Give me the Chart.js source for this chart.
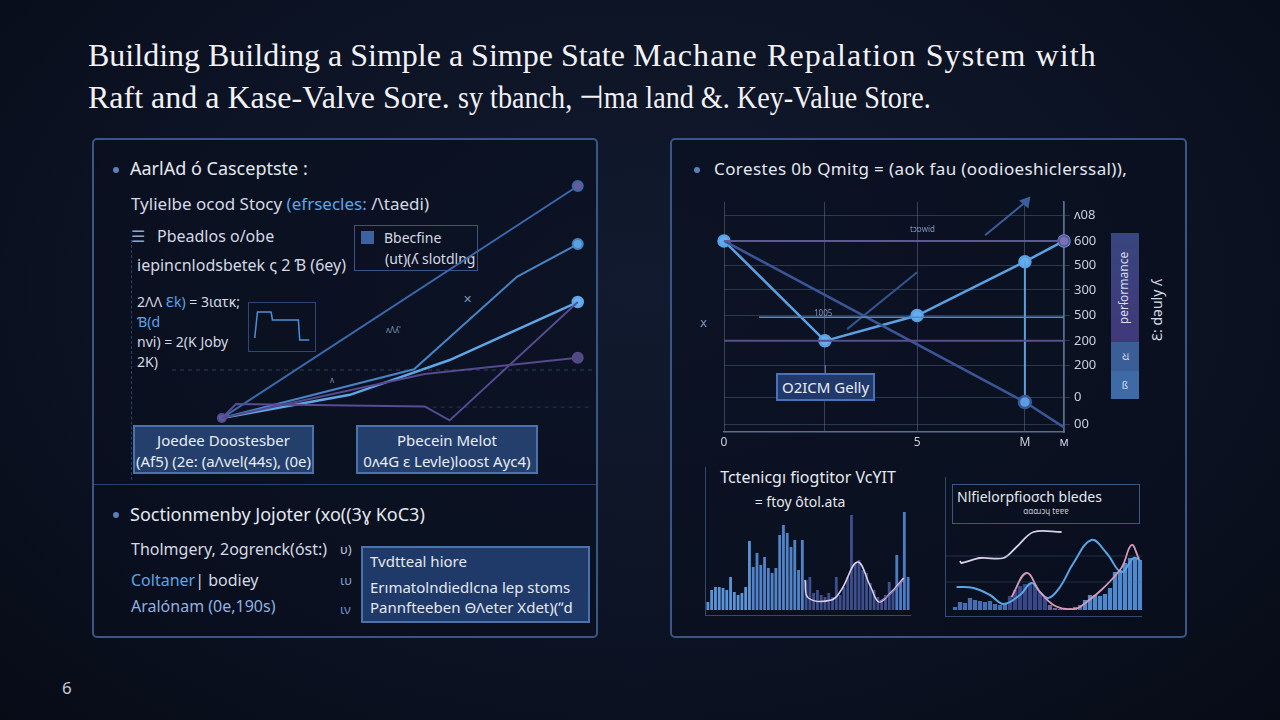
<!DOCTYPE html>
<html lang="en">
<head>
<meta charset="UTF-8">
<title>Raft state machine replication</title>
<script src="https://cdn.jsdelivr.net/npm/chart.js"></script>
<style>
    html, body {
        margin: 0;
        padding: 0;
    }

    body {
        width: 1280px;
        height: 720px;
        overflow: hidden;
        position: relative;
        background: radial-gradient(ellipse at 50% 40%, #111a2e 0%, #0c1324 55%, #070b16 100%);
        font-family: 'Noto Sans', sans-serif;
        color: #e4e8f0;
    }

    .t {
        position: absolute;
        white-space: nowrap;
        transform: translateY(-50%);
        line-height: 1.2;
    }

    .title {
        position: absolute;
        left: 88px;
        top: 34px;
        font-family: 'Liberation Serif', serif;
        font-size: 32px;
        line-height: 42px;
        color: #f2f2f6;
        white-space: nowrap;
    }

    .panel {
        position: absolute;
        box-sizing: border-box;
        border: 2px solid #3b5586;
        border-radius: 5px;
        background: rgba(9, 14, 30, 0.55);
    }

    .dot {
        position: absolute;
        width: 6px;
        height: 6px;
        border-radius: 50%;
        background: #5d7fb8;
    }

    .box {
        position: absolute;
        box-sizing: border-box;
        background: #243f6c;
        border: 2px solid #4a72ad;
        color: #e8ecf4;
        font-size: 15px;
        text-align: center;
        line-height: 21px;
    }

    .blue {
        color: #5aa6e8;
    }

    .dim {
        color: #7f95bd;
    }

    canvas {
        position: absolute;
    }
</style>
</head>
<body>

<div class="title">Building Building a Simple a Simpe State <span style="letter-spacing:1.1px">Machane Repalation System with</span><br>Raft and a Kase-Valve Sore. <span style="display:inline-block;transform:scaleX(0.88);transform-origin:0 50%;">sy tbanch, ⊣ma land &amp;. Key-Value Store.</span></div>

<!-- left panel -->
<div class="panel" style="left:92px;top:138px;width:506px;height:500px;"></div>
<div style="position:absolute;left:94px;top:484px;width:502px;height:1px;background:#2c4170;"></div>
<div style="position:absolute;left:131px;top:240px;height:240px;border-left:1px dashed #2e4066;"></div>

<div class="dot" style="left:113px;top:167px;"></div>
<div class="t" style="left:130px;top:169px;font-size:18px;">AarlAd ó Casceptste :</div>
<div class="t" style="left:131px;top:204px;font-size:17px;color:#d4d9e4;">Tylielbe ocod Stocy <span class="blue">(efrsecles:</span> /\taedi)</div>
<div class="t" style="left:131px;top:237px;font-size:16px;color:#8ea4cc;">☰</div>
<div class="t" style="left:157px;top:237px;font-size:16px;color:#d4d9e4;">Pbeadlos o/obe</div>
<div class="t" style="left:137px;top:266px;font-size:16px;color:#d4d9e4;">iepincnlodsbetek ς 2 Ɓ (6ey)</div>
<div class="t" style="left:137px;top:302px;font-size:14px;color:#d4d9e4;">2ΛΛ <span class="blue">Ɛk)</span> = 3ιατκ;</div>
<div class="t" style="left:137px;top:322px;font-size:14px;" ><span class="blue">Ɓ(d</span></div>
<div class="t" style="left:137px;top:342px;font-size:14px;color:#d4d9e4;">nvi) = 2(K Joby</div>
<div class="t" style="left:137px;top:362px;font-size:14px;color:#d4d9e4;">2K)</div>

<div style="position:absolute;left:248px;top:302px;width:68px;height:50px;box-sizing:border-box;border:1px solid #2f4778;"></div>
<canvas id="stepChart" width="60" height="42" style="left:252px;top:306px;"></canvas>

<div style="position:absolute;left:354px;top:225px;width:124px;height:46px;box-sizing:border-box;border:1px solid #3a5585;"></div>
<div style="position:absolute;left:361px;top:231px;width:13px;height:13px;background:#3d62a0;"></div>
<div class="t" style="left:384px;top:238px;font-size:14px;color:#d4d9e4;">Bbecfine</div>
<div class="t" style="left:385px;top:259px;font-size:14px;color:#d4d9e4;">(ut)(ʎ slotdlng</div>

<div class="t dim" style="left:463px;top:299px;font-size:11px;">✕</div>
<div class="t dim" style="left:386px;top:330px;font-size:8px;">ʌΛʎ'</div>
<div class="t dim" style="left:330px;top:380px;font-size:8px;">ʌ</div>

<canvas id="leftChart" width="420" height="245" style="left:172px;top:180px;"></canvas>

<div class="box" style="left:133px;top:425px;width:181px;height:49px;padding-top:3px;">Joedee Doostesber<br>(Af5) (2e: (aΛvel(44s), (0e)</div>
<div class="box" style="left:356px;top:425px;width:182px;height:49px;padding-top:3px;">Pbecein Melot<br>0ʌ4G ɛ Levle)loost Ayc4)</div>

<div class="dot" style="left:113px;top:512px;"></div>
<div class="t" style="left:130px;top:515px;font-size:18px;">Soctionmenby Jojoter (xo((3ɣ KoC3)</div>
<div class="t" style="left:131px;top:550px;font-size:16px;color:#d4d9e4;">Tholmgery, 2ogrenck(óst:)</div>
<div class="t" style="left:131px;top:581px;font-size:16px;color:#d4d9e4;"><span class="blue">Coltaner</span>| bodiey</div>
<div class="t" style="left:131px;top:607px;font-size:16px;color:#8fb2e0;">Aralónam (0e,190s)</div>
<div class="t" style="left:340px;top:550px;font-size:13px;color:#b8c4dc;">υ)</div>
<div class="t" style="left:340px;top:581px;font-size:13px;color:#7f9ed0;">ιυ</div>
<div class="t" style="left:340px;top:610px;font-size:13px;color:#6f8ec8;">ιν</div>

<div class="box" style="left:361px;top:546px;width:229px;height:77px;background:#1f3a68;text-align:left;"></div>
<div class="t" style="left:370px;top:561px;font-size:15px;">Tvdtteal hiore</div>
<div class="t" style="left:370px;top:587px;font-size:15px;">Erımatolndiedlcna lep stoms</div>
<div class="t" style="left:370px;top:607px;font-size:15px;">Pannfteeben ΘΛeter Xdet)(ʼʼd</div>

<!-- right panel -->
<div class="panel" style="left:670px;top:138px;width:517px;height:500px;"></div>
<div class="dot" style="left:694px;top:167px;"></div>
<div class="t" style="left:714px;top:169px;font-size:17px;letter-spacing:0.4px;">Corestes 0b Qmitg = (aok fau (oodioeshiclerssal)),</div>

<canvas id="rightChart" width="405" height="260" style="left:700px;top:190px;"></canvas>
<div class="t dim" style="left:700px;top:323px;font-size:12px;">ⅹ</div>
<div class="t dim" style="left:910px;top:229px;font-size:8px;">tɔɒwid</div>
<div class="t dim" style="left:814px;top:313px;font-size:8px;">1005</div>
<div style="position:absolute;left:825px;top:365px;width:1px;height:8px;background:#4a72b8;"></div>
<div class="box" style="left:776px;top:373px;width:99px;height:28px;background:#20386a;border-color:#4a72b8;line-height:24px;">O2ICM Gelly</div>

<div style="position:absolute;left:1111px;top:233px;width:28px;height:109px;background:linear-gradient(#38467f,#40387a);"></div>
<div style="position:absolute;left:1111px;top:342px;width:28px;height:29px;background:#3c5e96;"></div>
<div style="position:absolute;left:1111px;top:371px;width:28px;height:28px;background:#3e6ba8;"></div>
<div class="t" style="left:1125px;top:288px;font-size:12px;color:#d8dcf0;transform:translate(-50%,-50%) rotate(90deg);">ǝɔuɐɯɹoɟɹǝd</div>
<div class="t" style="left:1125px;top:356px;font-size:11px;color:#d8dcf0;transform:translate(-50%,-50%);">ଧ</div>
<div class="t" style="left:1125px;top:385px;font-size:10px;color:#d8dcf0;transform:translate(-50%,-50%);">ß</div>
<div class="t" style="left:1157px;top:310px;font-size:14px;color:#d4d9e4;transform:translate(-50%,-50%) rotate(-90deg);">Ɛ: dəuly ʎ</div>

<!-- bottom right charts -->
<div class="t" style="left:808px;top:478px;font-size:16px;color:#e4e8f0;transform:translate(-50%,-50%);">Tctenicgı fiogtitor VcYIT</div>
<div class="t" style="left:800px;top:502px;font-size:14px;color:#e4e8f0;transform:translate(-50%,-50%);">= ftoy ôtol.ata</div>
<div style="position:absolute;left:705px;top:467px;width:1px;height:149px;background:#34496f;"></div>
<div style="position:absolute;left:705px;top:615px;width:206px;height:1px;background:#34496f;"></div>
<canvas id="spikeChart" width="204" height="110" style="left:706px;top:500px;"></canvas>

<div style="position:absolute;left:952px;top:484px;width:188px;height:40px;box-sizing:border-box;border:1.5px solid #3a5586;"></div>
<div class="t" style="left:957px;top:497px;font-size:14px;color:#e4e8f0;">Nlfielorpfioσch bledes</div>
<div class="t" style="left:1046px;top:511px;font-size:8px;color:#c4cad8;transform:translate(-50%,-50%);">ɑɑɑɹɔɥ tɐɐɐ</div>
<div style="position:absolute;left:945px;top:477px;width:1px;height:140px;background:#34496f;"></div>
<div style="position:absolute;left:945px;top:616px;width:197px;height:1px;background:#34496f;"></div>
<canvas id="waveChart" width="196" height="85" style="left:946px;top:525px;"></canvas>

<div class="t" style="left:62px;top:688px;font-size:17px;color:#c4cad6;">6</div>

<script>
    // ---- left panel: converging lines ----
    const aX = [0, 100];
    const aY = [0, 100];
    const bX = [0, 54, 83, 100];
    const bY = [0, 21, 61, 75];
    const cX = [0, 36, 64, 100];
    const cY = [0, 10, 25, 50];
    const dX = [0, 4, 57, 64, 100];
    const dY = [0, 6, 5, -1, 50];
    const eX = [0, 36, 57, 100];
    const eY = [0, 12, 19, 26];
    const guideX = [-14, 104];
    const guideY = [20.7, 20.7];
    const guide2X = [57, 104];
    const guide2Y = [4.7, 4.7];

    // small step sketch inside the formula box
    const stepX = [0, 1, 6, 6.5, 16, 16.5, 20];
    const stepY = [10, 36, 36, 28, 28, 8, 8];

    // ---- right panel: main line chart ----
    const rYTicks = [94, 83, 72.3, 61.7, 50.6, 39.6, 28.9, 14.9, 3.4];
    const rYLabels = ['ʌ08', '600', '500', '300', '500', '200', '200', '0', '00'];
    const rXTicks = [0, 29.7, 56.8, 88.5, 100];
    const rXLabels = ['0', '', '5', 'M', 'м'];
    const mainX = [0, 29.7, 56.8, 88.5, 100];
    const mainY = [83, 39.6, 50.6, 74, 83];
    const diagX = [0, 88.5, 100];
    const diagY = [83, 13, 2];
    const topLevelY = 83;
    const midLevelY = 39.6;
    const blueLevelX = [10.3, 100];
    const blueLevelY = [49.8, 49.8];
    const dropX = [88.5, 88.5];
    const dropY = [74, 14.9];
    const arrow1X = [36.2, 56.8];
    const arrow1Y = [44.7, 69.4];
    const arrow2X = [76.8, 88.8];
    const arrow2Y = [85.5, 100];

    // ---- bottom right: spiky bars ----
    const spikeBars = [8, 20, 23, 23, 22, 20, 33, 18, 15, 17, 23, 69, 43, 57, 45, 53, 42, 37, 42, 75,
        85, 77, 63, 70, 40, 70, 30, 33, 17, 20, 15, 13, 17, 13, 33, 15, 23, 33, 95, 47,
        50, 40, 37, 27, 20, 13, 10, 15, 28, 20, 55, 27, 98, 33];
    const spikeLineX = [25.7, 26.6, 32.7, 35.3, 39.6, 43.1, 45.3, 48.3, 51.8];
    const spikeLineY = [30, 12, 10, 20, 48, 23, 8, 17, 32];
    const spikeLine2X = [45.3, 48.3, 51.8];
    const spikeLine2Y = [8, 16, 30];

    // ---- bottom right: wave chart ----
    const waveBars = [3, 8, 7, 12, 10, 9, 8, 9, 6, 5, 7, 14, 20, 24, 26, 27, 25, 18, 12, 5,
        2, 1, 1, 2, 3, 5, 10, 15, 15, 14, 16, 22, 38, 40, 47, 52, 52, 50];
    const whiteX = [1, 1.3, 5, 9.7, 12.3, 15.7, 21.3];
    const whiteY = [49, 47, 52, 52, 63, 78, 78];
    const blueX = [0.3, 3.7, 7, 9.7, 13, 15.3, 17, 18.7, 21, 23.7, 27.3, 30.3, 33.3, 35.7, 37];
    const blueY = [23, 22, 15, 6, 15, 27, 18, 12, 23, 47, 70, 57, 38, 52, 50];
    const pinkX = [11.3, 14.3, 17, 19.7, 22.3, 25, 33, 35.3, 36.8];
    const pinkY = [13, 37, 18, 5, 1, 3, 40, 65, 51];
    const waveGridY = [28, 54];

    Chart.defaults.font.family = "'Noto Sans', sans-serif";
    Chart.defaults.animation = false;
    Chart.defaults.responsive = false;
    Chart.defaults.layout.autoPadding = false;
    Chart.defaults.plugins.legend.display = false;
    Chart.defaults.plugins.tooltip.enabled = false;

    const pts = (xs, ys) => xs.map((x, i) => ({ x: x, y: ys[i] }));
    const flat = (x0, x1, y) => [{ x: x0, y: y }, { x: x1, y: y }];
    const endDot = (n, r) => Array.from({ length: n }, (_, i) => i === n - 1 ? r : 0);

    function line(data, color, width, extra) {
        return Object.assign({
            type: 'line',
            data: data,
            borderColor: color,
            backgroundColor: color,
            borderWidth: width,
            pointRadius: 0,
            fill: false,
            clip: false
        }, extra || {});
    }

    const hidden = (min, max) => ({
        type: 'linear',
        display: false,
        offset: false,
        grace: 0,
        bounds: 'data',
        min: min,
        max: max,
        grid: { offset: false }
    });

    new Chart(document.getElementById('leftChart'), {
        type: 'line',
        data: {
            datasets: [
                line(pts(guideX, guideY), 'rgba(80,100,140,0.55)', 1, { borderDash: [4, 4] }),
                line(pts(guide2X, guide2Y), 'rgba(80,100,140,0.45)', 1, { borderDash: [4, 4] }),
                line(pts(eX, eY), '#544a8c', 2, { pointRadius: endDot(eX.length, 5), pointBackgroundColor: '#4f4a82' }),
                line(pts(dX, dY), '#574c94', 2, { pointRadius: [4, 0, 0, 0, 0], pointBackgroundColor: '#5c5aa0' }),
                line(pts(aX, aY), '#3a68ab', 2, { pointRadius: endDot(aX.length, 5), pointBackgroundColor: '#665c96' }),
                line(pts(bX, bY), '#4684c6', 2, { pointRadius: endDot(bX.length, 5), pointBackgroundColor: '#5aa2e2' }),
                line(pts(cX, cY), '#5ea6e6', 2.5, { pointRadius: endDot(cX.length, 5), pointBackgroundColor: '#68b0f0' })
            ]
        },
        options: {
            layout: { padding: 0 },
            scales: { x: hidden(-14, 104), y: hidden(-3, 102.6) }
        }
    });

    new Chart(document.getElementById('stepChart'), {
        type: 'line',
        data: {
            datasets: [
                line(pts(stepX, stepY), '#4f8fd6', 1.5)
            ]
        },
        options: {
            scales: { x: hidden(-1, 21), y: hidden(0, 42) }
        }
    });

    new Chart(document.getElementById('rightChart'), {
        type: 'line',
        data: {
            datasets: [
                line(flat(0, 100, midLevelY), '#5a4e8e', 2),
                line(pts(blueLevelX, blueLevelY), '#4d8ccc', 1.5),
                line(flat(0, 100, topLevelY), '#5d5898', 2, { pointRadius: [0, 5], pointBackgroundColor: '#7a72b8' }),
                line(pts(arrow1X, arrow1Y), '#34548f', 2),
                line(pts(arrow2X, arrow2Y), '#3c5e9c', 2, { pointRadius: [0, 5], pointStyle: 'triangle', rotation: 40, pointBackgroundColor: '#3c5e9c' }),
                line(pts(diagX, diagY), '#3a5698', 2.5, { pointRadius: [0, 6, 0], pointBackgroundColor: '#5a9ee0' }),
                line(pts(dropX, dropY), '#5aa0e0', 2),
                line(pts(mainX, mainY), '#5ca2e2', 2.5, { pointRadius: 5.5, pointBackgroundColor: '#64aef0' })
            ]
        },
        options: {
            layout: { padding: { left: 24, top: 7, right: 0, bottom: 0 } },
            scales: {
                x: {
                    type: 'linear',
                    min: 0,
                    max: 100,
                    afterBuildTicks: axis => { axis.ticks = rXTicks.map(v => ({ value: v })); },
                    afterFit: axis => { axis.height = 18; },
                    grid: { color: 'rgba(105,125,165,0.45)', drawTicks: false },
                    border: { color: '#5a6c90', width: 1.5 },
                    ticks: { color: '#c8cedc', font: { size: 12 }, padding: 3, maxRotation: 0, callback: (v, i) => rXLabels[i] }
                },
                y: {
                    type: 'linear',
                    position: 'right',
                    min: 0,
                    max: 100,
                    afterBuildTicks: axis => { axis.ticks = rYTicks.map(v => ({ value: v })); },
                    afterFit: axis => { axis.width = 41; },
                    grid: { color: 'rgba(105,125,165,0.35)', tickLength: 6 },
                    border: { color: '#5a6c90', width: 1.5 },
                    ticks: { color: '#c8cedc', font: { size: 13 }, padding: 4, callback: (v, i) => rYLabels[i] }
                }
            }
        }
    });

    const spikeColor = ctx => {
        const i = ctx.dataIndex;
        if (i < 12) return '#5b94d8';
        if (i < 26) return '#5283c6';
        if (i < 50) return '#3e4f8e';
        return '#4d7cc4';
    };

    new Chart(document.getElementById('spikeChart'), {
        type: 'bar',
        data: {
            datasets: [
                line(pts(spikeLine2X, spikeLine2Y), '#8a74b4', 1.5, { tension: 0.4 }),
                line(pts(spikeLineX, spikeLineY), '#dcd2ec', 1.5, { tension: 0.4 }),
                {
                    type: 'bar',
                    data: spikeBars.map((v, i) => ({ x: i, y: v })),
                    backgroundColor: spikeColor,
                    barPercentage: 0.75,
                    categoryPercentage: 1
                }
            ]
        },
        options: {
            scales: { x: hidden(-0.5, spikeBars.length - 0.5), y: hidden(0, 110) }
        }
    });

    const waveColor = ctx => {
        const i = ctx.dataIndex;
        if (i < 11) return '#4a6cb0';
        if (i < 19) return '#3a4786';
        if (i < 26) return '#6a6a98';
        return '#4f88cc';
    };

    new Chart(document.getElementById('waveChart'), {
        type: 'bar',
        data: {
            datasets: [
                line(flat(-1.8, 37.4, waveGridY[0]), 'rgba(90,110,150,0.35)', 1),
                line(flat(-1.8, 37.4, waveGridY[1]), 'rgba(90,110,150,0.35)', 1),
                line(pts(whiteX, whiteY), '#d6d0ea', 1.8, { tension: 0.35 }),
                line(pts(pinkX, pinkY), '#d49ab8', 1.8, { tension: 0.4 }),
                line(pts(blueX, blueY), '#58a6e6', 2, { tension: 0.4 }),
                {
                    type: 'bar',
                    data: waveBars.map((v, i) => ({ x: i, y: v })),
                    backgroundColor: waveColor,
                    barPercentage: 0.85,
                    categoryPercentage: 1
                }
            ]
        },
        options: {
            scales: { x: hidden(-1.8, 37.4), y: hidden(0, 85) }
        }
    });
</script>
</body>
</html>
